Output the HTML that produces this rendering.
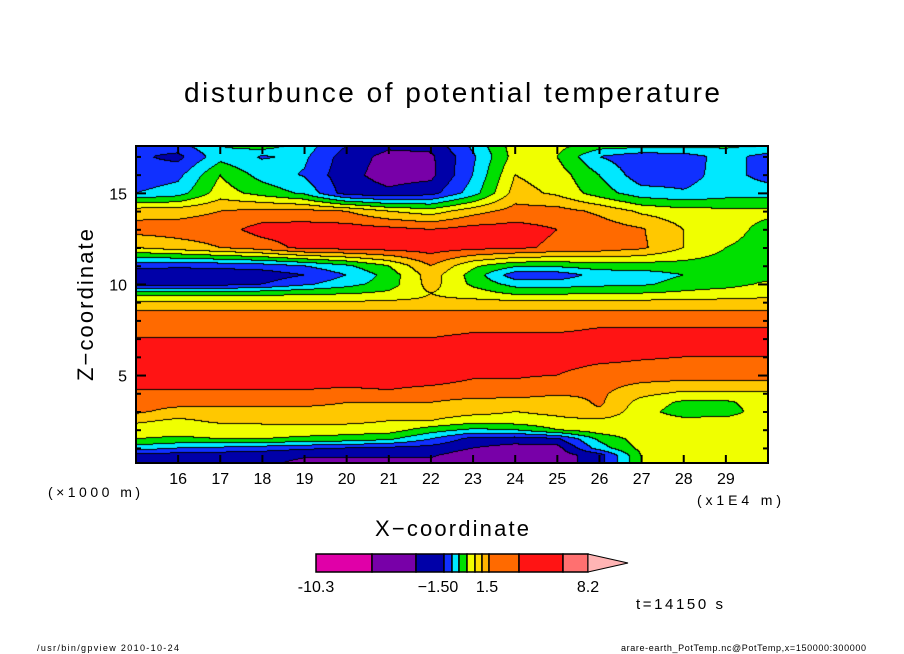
<!DOCTYPE html>
<html><head><meta charset="utf-8">
<style>
html,body{margin:0;padding:0;background:#fff;}
#wrap{position:relative;width:904px;height:654px;overflow:hidden;font-family:"Liberation Sans",sans-serif;}
canvas{position:absolute;left:136px;top:146px;}
svg{position:absolute;left:0;top:0;}
</style></head>
<body>
<div id="wrap">
<canvas id="cv" width="632" height="317"></canvas>
<svg id="sv" width="904" height="654"></svg>
</div>
<script>
// ---- data ----
const xCoords = [15,16,17,18,19,20,21,22,23,24,25,26,27,28,29,30];
const zCoords = [17.6,17,16,15,14,13,12,11,10.5,10,9.5,9,8.5,7.5,7,6,5,4,3.5,3,2.5,2,1.5,1,0.6,0.2];
const row00 = [3.5,3.6,5.0,5.6,4.5,3.0,2.2,2.3,4.2,6.5,6.3,5.5,5.4,5.3,5.2,5.0];
const row01 = [3.2,2.7,4.6,3.9,4.2,2.5,1.7,1.8,3.8,6.4,6.0,4.0,3.3,3.5,4.4,3.6];
const row02 = [3.3,3.7,6.0,4.6,3.9,2.3,1.6,1.7,4.0,7.0,6.5,5.0,3.4,3.6,4.4,3.6];
const row03 = [4.0,4.5,6.5,5.6,4.8,2.5,2.2,2.6,4.5,7.4,6.8,5.5,4.4,4.1,4.5,4.5];
const row04 = [7.6,7.6,8.0,8.3,8.3,8.0,7.0,6.5,7.6,8.4,8.4,7.8,6.8,6.4,6.3,6.3];
const row05 = [8.4,8.5,8.6,9.4,9.5,9.5,9.3,9.0,9.4,9.4,9.0,8.6,8.1,7.0,6.5,5.6];
const row06 = [7.0,7.5,8.0,8.5,9.3,9.4,9.5,9.5,9.3,9.2,8.8,8.6,8.2,7.0,6.0,5.5];
const row07 = [3.3,3.2,3.3,3.5,4.0,4.8,6.0,8.0,6.2,5.2,5.2,5.5,5.5,5.6,5.5,5.4];
const row08 = [2.4,2.3,2.3,2.4,3.0,4.0,5.4,7.5,5.6,3.4,3.4,4.4,4.5,5.0,5.5,5.6];
const row09 = [2.6,2.5,2.6,3.0,3.8,4.6,5.5,7.4,5.8,4.6,4.5,4.7,4.8,5.4,5.6,6.2];
const row10 = [5.5,5.5,5.5,5.6,5.8,5.9,6.2,7.0,6.5,5.8,5.8,6.0,6.0,6.2,6.5,6.7];
const row11 = [7.1,7.1,7.1,7.1,7.1,7.1,7.2,7.2,7.3,7.3,7.3,7.3,7.3,7.3,7.3,7.3];
const row12 = [8.1,8.1,8.1,8.1,8.1,8.1,8.1,8.1,8.1,8.1,8.1,8.1,8.1,8.1,8.1,8.1];
const row13 = [8.5,8.5,8.5,8.5,8.5,8.5,8.5,8.5,8.8,8.8,8.8,9.1,9.1,9.1,9.1,9.1];
const row14 = [9.05,9.05,9.05,9.05,9.05,9.05,9.05,9.05,9.4,9.4,9.4,9.4,9.4,9.4,9.4,9.4];
const row15 = [9.5,9.5,9.5,9.5,9.5,9.5,9.5,9.5,9.5,9.5,9.5,9.3,9.1,9.0,9.0,9.0];
const row16 = [9.4,9.4,9.4,9.4,9.4,9.4,9.4,9.4,9.1,9.1,9.0,8.5,8.5,8.5,8.5,8.5];
const row17 = [8.9,8.9,8.9,8.9,8.9,8.8,8.9,8.7,8.6,8.6,8.2,8.2,7.3,6.8,6.8,6.8];
const row18 = [8.4,8.4,8.4,8.4,8.4,8.0,8.0,8.0,7.5,7.4,7.2,8.2,6.6,5.8,5.8,6.6];
const row19 = [8.2,7.6,7.6,7.6,7.5,7.5,7.5,7.5,7.3,7.0,7.2,7.8,6.4,5.5,5.6,6.5];
const row20 = [7.2,6.8,7.2,7.3,7.4,7.3,7.0,7.0,6.5,6.6,6.8,6.8,6.5,6.3,6.3,6.6];
const row21 = [6.5,6.5,6.5,6.5,6.5,6.5,6.5,5.5,4.8,5.0,6.0,6.6,6.8,6.6,6.8,6.6];
const row22 = [6.0,5.8,6.0,6.0,5.8,5.6,5.2,4.0,2.6,2.5,2.8,5.2,6.5,6.5,6.6,6.5];
const row23 = [4.5,4.0,3.8,3.5,3.2,3.0,2.8,2.6,2.0,1.6,1.6,4.5,6.3,6.5,6.5,6.5];
const row24 = [2.6,2.5,2.4,2.4,2.1,2.1,2.1,2.1,1.5,1.5,1.5,2.5,6.0,6.5,6.5,6.5];
const row25 = [2.5,2.5,2.4,2.2,1.8,1.7,1.8,1.8,1.5,1.4,1.5,2.5,6.0,6.5,6.5,6.5];
const fieldRows = [row00,row01,row02,row03,row04,row05,row06,row07,row08,row09,row10,row11,row12,row13,row14,row15,row16,row17,row18,row19,row20,row21,row22,row23,row24,row25];
const levelColors = ['#e000a8','#7800a8','#0000a8','#1030ff','#00e8ff','#00e000','#f0ff00','#ffc800','#ff6a00','#ff1414','#ff7070'];
const xTickLabels = [16,17,18,19,20,21,22,23,24,25,26,27,28,29];
const zTickLabels = [5,10,15];
const cbColors = ['#e000a8','#7800a8','#0000a8','#1030ff','#00e8ff','#00e000','#f0ff00','#ffe000','#ffb400','#ff6a00','#ff1414','#ff7070'];
const cbSpan = [56,44,28,8,7,8,8,7,7,30,44,25];
const cbLabels = [['-10.3',0],['\u22121.50',3],['1.5',9],['8.2',12]];

// ---- scales ----
const PX0=136, PY0=146, PW=632, PH=317;
const xMin=15, xMax=30, zMin=0.2, zMax=17.6;
const sx = x => PX0 + (x-xMin)*PW/(xMax-xMin);
const sz = z => PY0 + (zMax-z)*PH/(zMax-zMin);

function fieldAt(x,z){
  let c=(x-xCoords[0])/(xCoords[1]-xCoords[0]);
  let ci=Math.min(Math.max(Math.floor(c),0),xCoords.length-2); let fx=c-ci;
  let ri=0;
  while(ri<zCoords.length-2 && z<zCoords[ri+1]) ri++;
  let fz=(zCoords[ri]-z)/(zCoords[ri]-zCoords[ri+1]); fz=Math.min(Math.max(fz,0),1);
  const a=fieldRows[ri][ci], b=fieldRows[ri][ci+1], c2=fieldRows[ri+1][ci], d=fieldRows[ri+1][ci+1];
  return (a*(1-fx)+b*fx)*(1-fz)+(c2*(1-fx)+d*fx)*fz;
}
function hex(h){return [parseInt(h.substr(1,2),16),parseInt(h.substr(3,2),16),parseInt(h.substr(5,2),16)];}
const rgb = levelColors.map(hex);

// ---- draw field ----
const cv=document.getElementById('cv'); const ctx=cv.getContext('2d');
const img=ctx.createImageData(PW,PH);
const lev=new Int8Array(PW*PH);
for(let j=0;j<PH;j++){
  const z=zMax-(j+0.5)*(zMax-zMin)/PH;
  for(let i=0;i<PW;i++){
    const x=xMin+(i+0.5)*(xMax-xMin)/PW;
    let l=Math.floor(fieldAt(x,z)); l=Math.max(0,Math.min(levelColors.length-1,l));
    lev[j*PW+i]=l;
  }
}
for(let j=0;j<PH;j++)for(let i=0;i<PW;i++){
  const k=j*PW+i, l=lev[k];
  let edge=(i<PW-1&&lev[k+1]!==l)||(j<PH-1&&lev[k+PW]!==l);
  const c=edge?[0,0,0]:rgb[l];
  img.data[k*4]=c[0];img.data[k*4+1]=c[1];img.data[k*4+2]=c[2];img.data[k*4+3]=255;
}
ctx.putImageData(img,0,0);

// ---- overlay ----
const NS='http://www.w3.org/2000/svg';
const sv=document.getElementById('sv');
function mk(tag,attrs,name,text){
  const e=document.createElementNS(NS,tag);
  for(const k in attrs) e.setAttribute(k,attrs[k]);
  
  
  if(text!==undefined) e.textContent=text;
  sv.appendChild(e); return e;
}
mk('rect',{x:PX0,y:PY0,width:PW,height:PH,fill:'none',stroke:'#000','stroke-width':2},'plot-frame');
for(let x=16;x<=29;x++){
  mk('line',{x1:sx(x),x2:sx(x),y1:PY0+PH,y2:PY0+PH-8,stroke:'#000','stroke-width':2},'x-tick');
  mk('line',{x1:sx(x),x2:sx(x),y1:PY0,y2:PY0+8,stroke:'#000','stroke-width':2},'x-tick-top');
}
for(let z=1;z<=17;z++){
  const L=(z%5===0)?10:5;
  mk('line',{x1:PX0,x2:PX0+L,y1:sz(z),y2:sz(z),stroke:'#000','stroke-width':2},'z-tick');
  mk('line',{x1:PX0+PW,x2:PX0+PW-L,y1:sz(z),y2:sz(z),stroke:'#000','stroke-width':2},'z-tick-right');
}
xTickLabels.forEach(v=>{
  mk('text',{x:sx(v),y:484,'font-size':16,'text-anchor':'middle','font-family':'Liberation Sans, sans-serif'},'x-tick-label',String(v));
});
zTickLabels.forEach(v=>{
  mk('text',{x:127,y:sz(v)+6,'font-size':16,'text-anchor':'end','font-family':'Liberation Sans, sans-serif'},'z-tick-label',String(v));
});
mk('text',{x:48,y:497,'font-size':14,'textLength':92,'font-family':'Liberation Sans, sans-serif'},'z-unit-label','(\u00d71000 m)');
mk('text',{x:697,y:505,'font-size':14,'textLength':84,'font-family':'Liberation Sans, sans-serif'},'x-unit-label','(x1E4 m)');
mk('text',{x:375,y:536,'font-size':22,'textLength':154,'font-family':'Liberation Sans, sans-serif'},'x-axis-title','X\u2212coordinate');
mk('text',{x:0,y:0,'font-size':22,'textLength':152,'transform':'translate(93,381) rotate(-90)','font-family':'Liberation Sans, sans-serif'},'y-axis-title','Z\u2212coordinate');
mk('text',{x:184,y:102,'font-size':28,'textLength':536,'font-family':'Liberation Sans, sans-serif'},'chart-title','disturbunce of potential temperature');
// colorbar
let cx=316; const cy=554, ch=18;
cbColors.forEach((c,i)=>{
  mk('rect',{x:cx,y:cy,width:cbSpan[i],height:ch,fill:c,stroke:'#000','stroke-width':1.5},'colorbar-segment');
  cx+=cbSpan[i];
});
mk('polygon',{points:`${cx},${cy} ${cx+40},${cy+ch/2} ${cx},${cy+ch}`,fill:'#ffb4b4',stroke:'#000','stroke-width':1},'colorbar-extension');
const cbEdges=[316]; cbSpan.forEach((w,i)=>cbEdges.push(cbEdges[i]+w));
cbLabels.forEach(([t,i])=>{
  mk('text',{x:cbEdges[i]+(i===3?-6:(i===9?-2:0)),y:592,'font-size':16,'text-anchor':'middle','font-family':'Liberation Sans, sans-serif'},'colorbar-label',t);
});
mk('text',{x:636,y:609,'font-size':15,'textLength':87,'font-family':'Liberation Sans, sans-serif'},'time-label','t=14150 s');
mk('text',{x:37,y:651,'font-size':9,'textLength':142,'font-family':'Liberation Sans, sans-serif'},'footer-program','/usr/bin/gpview   2010-10-24');
mk('text',{x:621,y:651,'font-size':9,'textLength':245,'font-family':'Liberation Sans, sans-serif'},'footer-source','arare-earth_PotTemp.nc@PotTemp,x=150000:300000');
</script>
</body></html>
